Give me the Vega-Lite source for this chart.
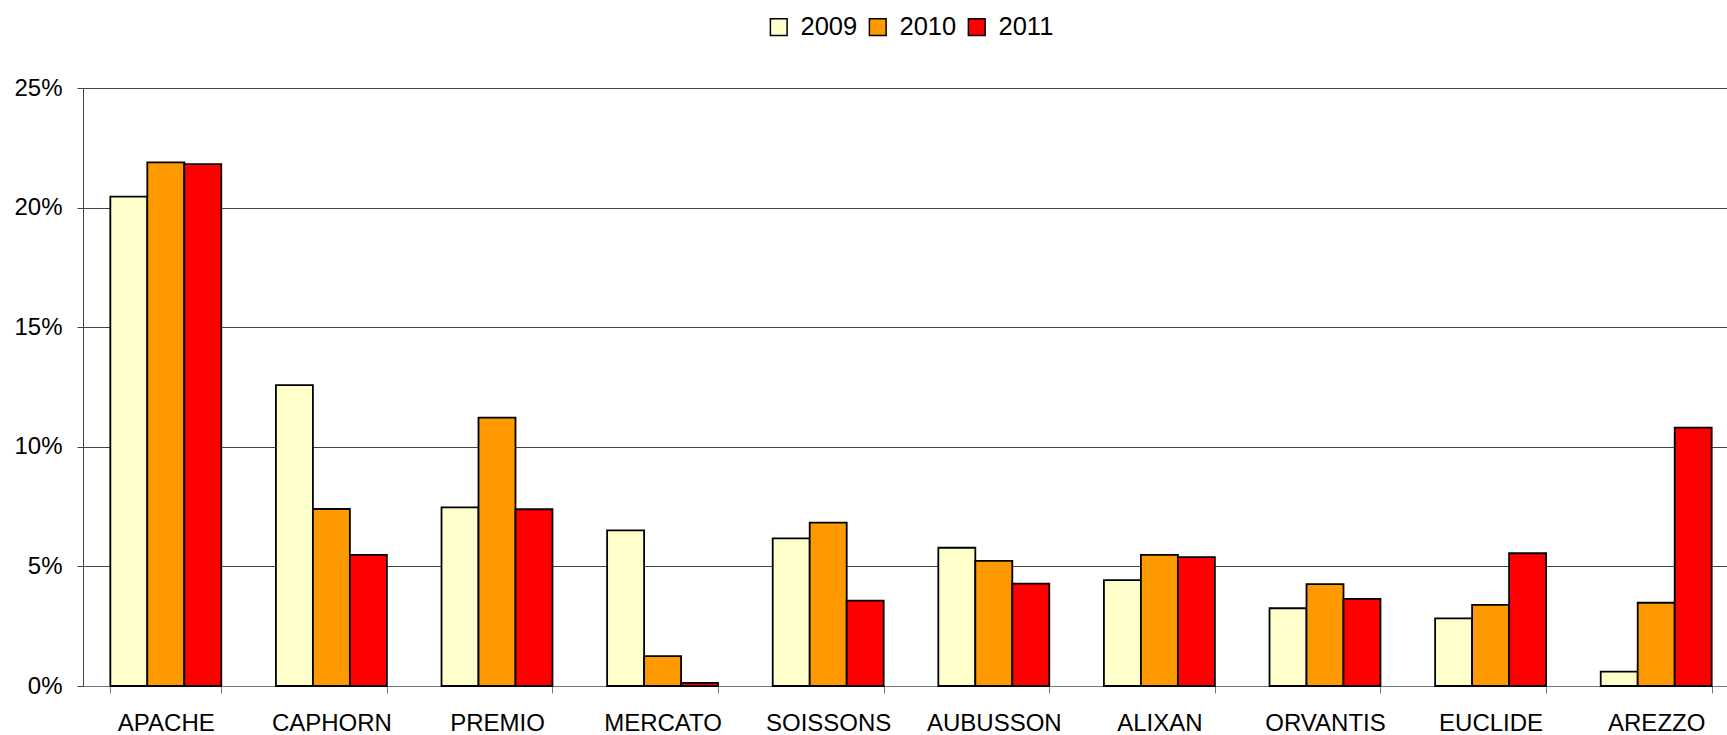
{
  "$schema": "https://vega.github.io/schema/vega-lite/v6.json",
  "width": 1644,
  "height": 598,
  "autosize": {"type": "none"},
  "padding": {"left": 83, "top": 88, "right": 0, "bottom": 49},
  "background": "white",
  "config": {
    "view": {"stroke": null},
    "font": "Liberation Sans",
    "axis": {"labelFont": "Liberation Sans", "labelColor": "#000"}
  },
  "data": {
    "values": [
      {"cat": "APACHE", "year": "2009", "v": 0.2046},
      {"cat": "APACHE", "year": "2010", "v": 0.2189},
      {"cat": "APACHE", "year": "2011", "v": 0.2182},
      {"cat": "CAPHORN", "year": "2009", "v": 0.1258},
      {"cat": "CAPHORN", "year": "2010", "v": 0.0740},
      {"cat": "CAPHORN", "year": "2011", "v": 0.0548},
      {"cat": "PREMIO", "year": "2009", "v": 0.0747},
      {"cat": "PREMIO", "year": "2010", "v": 0.1122},
      {"cat": "PREMIO", "year": "2011", "v": 0.0739},
      {"cat": "MERCATO", "year": "2009", "v": 0.0651},
      {"cat": "MERCATO", "year": "2010", "v": 0.0125},
      {"cat": "MERCATO", "year": "2011", "v": 0.0013},
      {"cat": "SOISSONS", "year": "2009", "v": 0.0617},
      {"cat": "SOISSONS", "year": "2010", "v": 0.0683},
      {"cat": "SOISSONS", "year": "2011", "v": 0.0357},
      {"cat": "AUBUSSON", "year": "2009", "v": 0.0578},
      {"cat": "AUBUSSON", "year": "2010", "v": 0.0523},
      {"cat": "AUBUSSON", "year": "2011", "v": 0.0428},
      {"cat": "ALIXAN", "year": "2009", "v": 0.0443},
      {"cat": "ALIXAN", "year": "2010", "v": 0.0548},
      {"cat": "ALIXAN", "year": "2011", "v": 0.0539},
      {"cat": "ORVANTIS", "year": "2009", "v": 0.0325},
      {"cat": "ORVANTIS", "year": "2010", "v": 0.0426},
      {"cat": "ORVANTIS", "year": "2011", "v": 0.0364},
      {"cat": "EUCLIDE", "year": "2009", "v": 0.0283},
      {"cat": "EUCLIDE", "year": "2010", "v": 0.0339},
      {"cat": "EUCLIDE", "year": "2011", "v": 0.0555},
      {"cat": "AREZZO", "year": "2009", "v": 0.0060},
      {"cat": "AREZZO", "year": "2010", "v": 0.0348},
      {"cat": "AREZZO", "year": "2011", "v": 0.1080}
    ]
  },
  "mark": {"type": "bar", "stroke": "#000", "strokeWidth": 1.8},
  "encoding": {
    "x": {
      "field": "cat",
      "type": "nominal",
      "sort": null,
      "scale": {"range": [0, 1656], "paddingInner": 0.33, "paddingOuter": 0.165},
      "axis": {
        "title": null,
        "labelAngle": 0,
        "labelFontSize": 24,
        "tickBand": "extent",
        "tickSize": 7,
        "tickColor": "#777",
        "domainColor": "#777",
        "domainWidth": 1,
        "labelPadding": 18,
        "grid": false
      }
    },
    "xOffset": {"field": "year", "type": "nominal", "scale": {"paddingInner": 0, "paddingOuter": 0}},
    "y": {
      "field": "v",
      "type": "quantitative",
      "scale": {"domain": [0, 0.25], "nice": false},
      "axis": {
        "title": null,
        "format": ".0%",
        "values": [0, 0.05, 0.1, 0.15, 0.2, 0.25],
        "labelFontSize": 24,
        "tickSize": 6,
        "tickColor": "#444",
        "domainColor": "#444",
        "labelPadding": 15,
        "grid": true,
        "gridColor": "#444",
        "gridWidth": 1
      }
    },
    "fill": {
      "field": "year",
      "type": "nominal",
      "scale": {"domain": ["2009", "2010", "2011"], "range": ["#FFFFCC", "#FF9900", "#FF0000"]},
      "legend": {
        "title": null,
        "orient": "none",
        "direction": "horizontal",
        "legendX": 683,
        "legendY": -74,
        "symbolType": "square",
        "symbolSize": 280,
        "symbolStrokeColor": "#000",
        "symbolStrokeWidth": 1.5,
        "labelFontSize": 25.5,
        "labelFont": "Liberation Sans",
        "labelColor": "#000",
        "labelOffset": 9,
        "columnPadding": 7
      }
    }
  }
}
